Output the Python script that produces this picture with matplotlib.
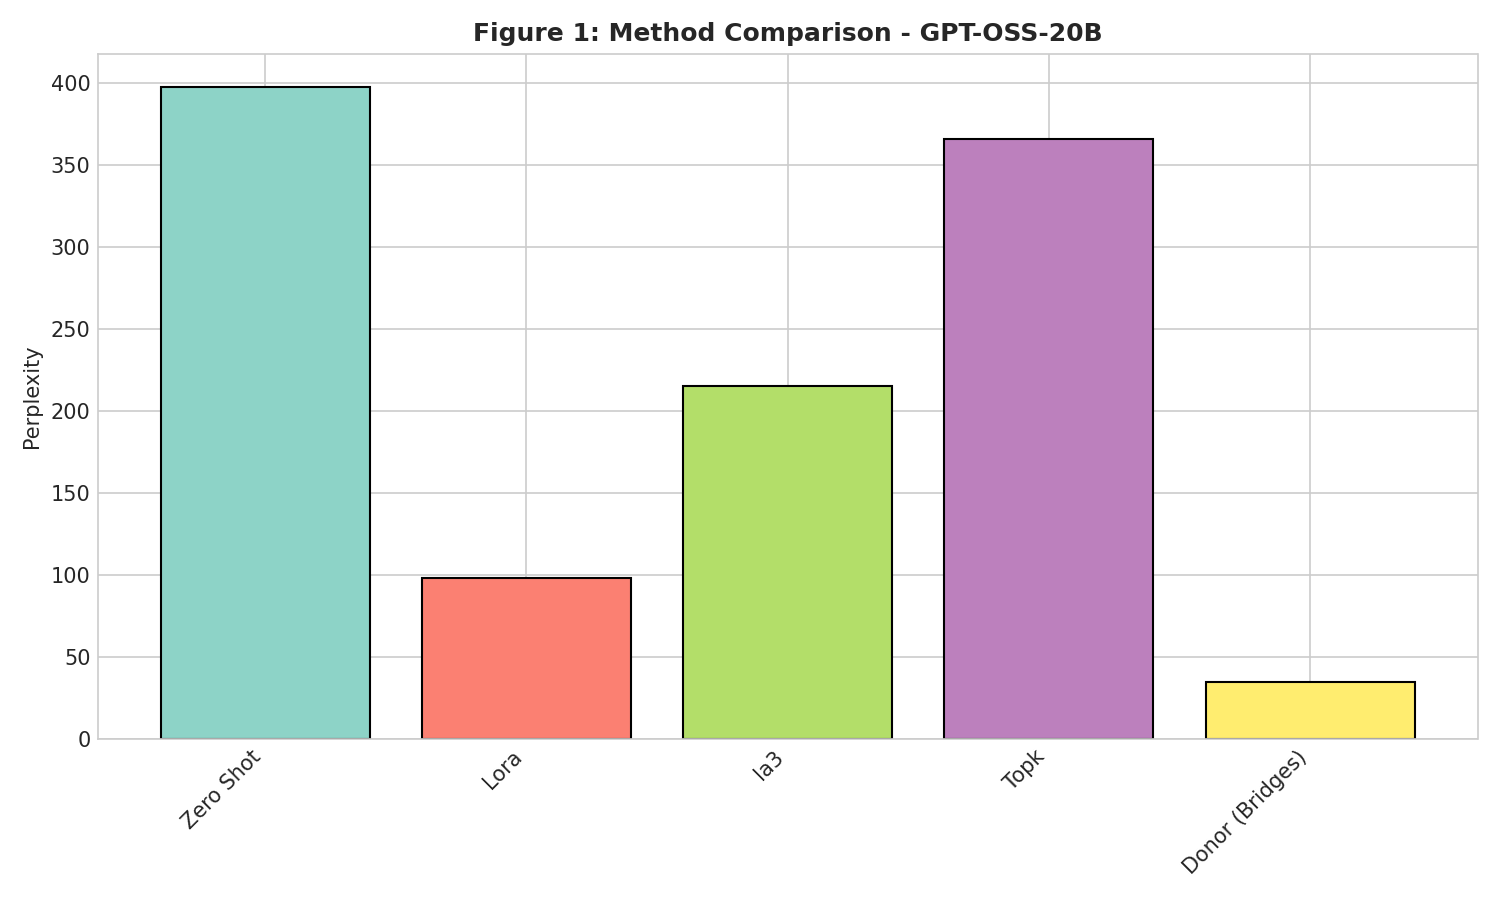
import matplotlib
matplotlib.use('Agg')
import matplotlib.pyplot as plt
import numpy as np
import seaborn as sns

sns.set_style('whitegrid')
plt.rcParams['xtick.major.size'] = 0
plt.rcParams['ytick.major.size'] = 0

methods = ['Zero Shot', 'Lora', 'Ia3', 'Topk', 'Donor (Bridges)']
perplexity = [397.5, 98.0, 215.0, 365.5, 35.0]

colors = plt.cm.Set3(np.linspace(0, 1, len(methods)))

fig, ax = plt.subplots(figsize=(10, 6), dpi=150)
ax.bar(methods, perplexity, color=colors, edgecolor='black', linewidth=1)
ax.set_ylabel('Perplexity')
ax.set_title('Figure 1: Method Comparison - GPT-OSS-20B', fontsize=12, fontweight='bold')
plt.setp(ax.get_xticklabels(), rotation=45, ha='right')
plt.tight_layout()
plt.savefig('out.png')
